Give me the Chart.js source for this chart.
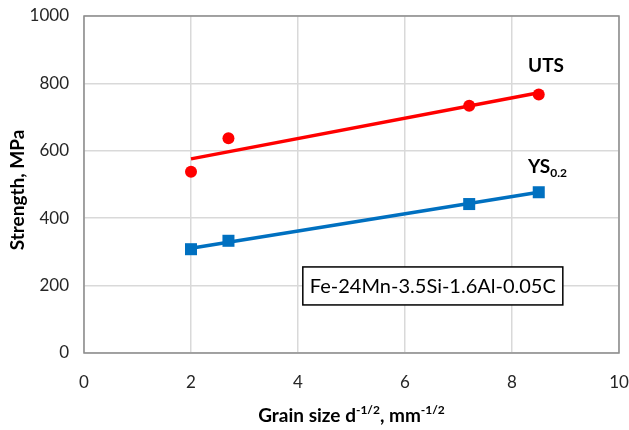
<!DOCTYPE html>
<html>
<head>
<meta charset="utf-8">
<script src="https://cdn.jsdelivr.net/npm/chart.js@4.4.0/dist/chart.umd.min.js"></script>
<style>
  html,body{margin:0;padding:0;background:#fff;}
  #wrap{width:629px;height:430px;position:relative;}
</style>
</head>
<body>
<div id="wrap"><canvas id="chart"></canvas></div>
<script>
// measured points
const grainSize = [2, 2.7, 7.2, 8.5];
const utsValues = [538, 637, 734, 767];
const ysValues = [308, 333, 442, 477];
// fitted lines as drawn in the figure (ends)
const fitX = [2, 8.5];
const utsFit = [576, 772];
const ysFit = [311, 477];

const xTicks = [0, 2, 4, 6, 8, 10];
const yTicks = [0, 200, 400, 600, 800, 1000];

const RED = '#ff0000', BLUE = '#0070c0';
const FONT = 'Lato, "Open Sans", sans-serif';

const pts = (xs, ys) => xs.map((x, i) => ({x, y: ys[i]}));

// frame, titles, series labels, alloy box
const extras = {
  id: 'extras',
  beforeDatasetsDraw(chart){
    const {ctx, chartArea: a} = chart;
    ctx.save();
    ctx.strokeStyle = '#8c8c8c';
    ctx.lineWidth = 1.5;
    ctx.strokeRect(a.left, a.top, a.right - a.left, a.bottom - a.top);
    ctx.restore();
  },
  afterDraw(chart){
    const {ctx, chartArea: a, scales} = chart;
    const sx = scales.x, sy = scales.y;
    ctx.save();
    ctx.fillStyle = '#000';

    // y title
    ctx.font = 'bold 19px ' + FONT;
    ctx.textAlign = 'center';
    ctx.textBaseline = 'middle';
    ctx.save();
    ctx.translate(18, 190);
    ctx.rotate(-Math.PI / 2);
    ctx.fillText('Strength, MPa', 0, 0);
    ctx.restore();

    // x title with superscripts
    const parts = [['Grain size d', 0], ['-1/2', 1], [', mm', 0], ['-1/2', 1]];
    const big = 'bold 19px ' + FONT, small = 'bold 12px ' + FONT;
    let total = 0;
    parts.forEach(p => { ctx.font = p[1] ? small : big; total += ctx.measureText(p[0]).width; });
    let x = (a.left + a.right) / 2 - total / 2;
    const base = 422;
    ctx.textAlign = 'left';
    ctx.textBaseline = 'alphabetic';
    parts.forEach(p => {
      ctx.font = p[1] ? small : big;
      ctx.fillText(p[0], x, p[1] ? base - 8 : base);
      x += ctx.measureText(p[0]).width;
    });

    // series labels
    ctx.font = 'bold 19px ' + FONT;
    ctx.textBaseline = 'middle';
    const lx = sx.getPixelForValue(8.3);
    ctx.fillText('UTS', lx, sy.getPixelForValue(852));
    const yy = sy.getPixelForValue(552);
    ctx.fillText('YS', lx, yy);
    const w = ctx.measureText('YS').width;
    ctx.font = 'bold 12px ' + FONT;
    ctx.fillText('0.2', lx + w, yy + 6);

    // alloy box
    const label = 'Fe-24Mn-3.5Si-1.6Al-0.05C';
    ctx.font = '20px ' + FONT;
    const tw = ctx.measureText(label).width;
    const cx = sx.getPixelForValue(6.52), cy = sy.getPixelForValue(199);
    const bw = tw + 14, bh = 38;
    ctx.fillStyle = '#fff';
    ctx.fillRect(cx - bw / 2, cy - bh / 2, bw, bh);
    ctx.strokeStyle = '#000';
    ctx.lineWidth = 1.5;
    ctx.strokeRect(cx - bw / 2, cy - bh / 2, bw, bh);
    ctx.fillStyle = '#000';
    ctx.textAlign = 'center';
    ctx.fillText(label, cx, cy + 1);
    ctx.restore();
  }
};

new Chart(document.getElementById('chart'), {
  type: 'scatter',
  data: {
    datasets: [
      {label: 'UTS fit', data: pts(fitX, utsFit), showLine: true, borderColor: RED, borderWidth: 3.5, pointRadius: 0, order: 2},
      {label: 'YS fit', data: pts(fitX, ysFit), showLine: true, borderColor: BLUE, borderWidth: 3.5, pointRadius: 0, order: 2},
      {label: 'UTS', data: pts(grainSize, utsValues), pointStyle: 'circle', pointRadius: 6, backgroundColor: RED, borderColor: RED, borderWidth: 0, order: 1},
      {label: 'YS', data: pts(grainSize, ysValues), pointStyle: 'rect', pointRadius: 8.5, backgroundColor: BLUE, borderColor: BLUE, borderWidth: 0, order: 1}
    ]
  },
  options: {
    responsive: true,
    maintainAspectRatio: false,
    animation: false,
    layout: {padding: {top: 16, right: 10, left: 0, bottom: 0}},
    plugins: {legend: {display: false}, tooltip: {enabled: false}},
    scales: {
      x: {
        type: 'linear', min: 0, max: 10,
        afterBuildTicks: s => { s.ticks = xTicks.map(v => ({value: v})); },
        afterFit: s => { s.height = 430 - 353; s.paddingLeft = 0; s.paddingRight = 0; },
        grid: {color: '#d9d9d9', lineWidth: 1.5, drawTicks: false},
        border: {display: false},
        ticks: {color: '#262626', font: {family: FONT, size: 17}, padding: 19, callback: v => String(v)}
      },
      y: {
        type: 'linear', min: 0, max: 1000,
        afterBuildTicks: s => { s.ticks = yTicks.map(v => ({value: v})); },
        afterFit: s => { s.width = 84; s.paddingTop = 0; s.paddingBottom = 0; },
        grid: {color: '#d9d9d9', lineWidth: 1.5, drawTicks: false},
        border: {display: false},
        ticks: {color: '#262626', font: {family: FONT, size: 17}, padding: 15, callback: v => String(v)}
      }
    }
  },
  plugins: [extras]
});
</script>
</body>
</html>
